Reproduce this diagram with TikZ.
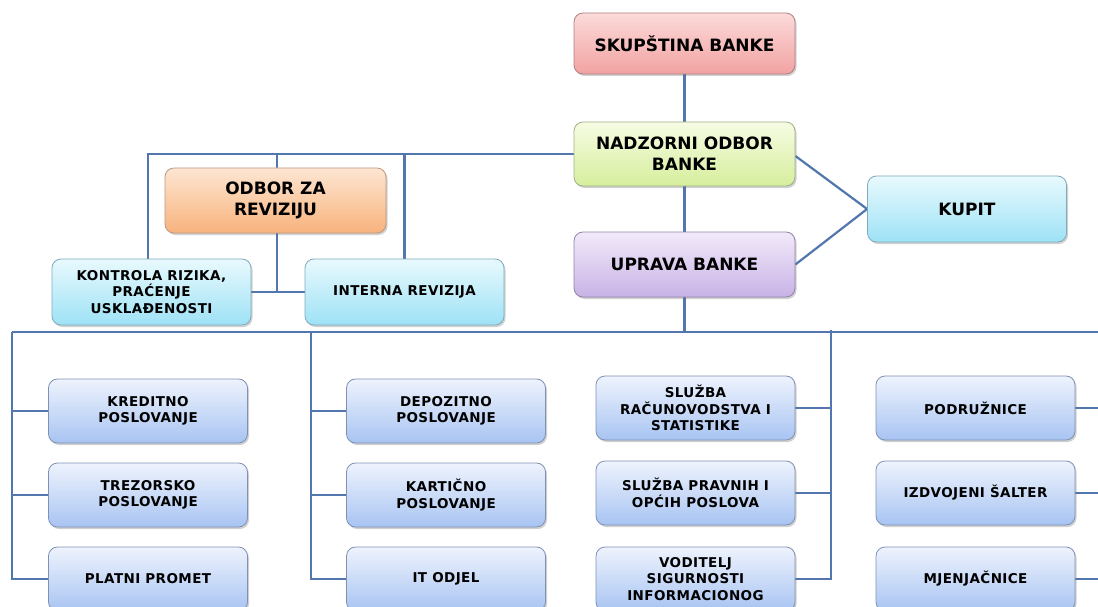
\documentclass[tikz,border=0pt]{standalone}
\usepackage{fontspec}
\setmainfont{DejaVu Sans}
\newfontfamily\topfont{DejaVu Sans}
\newfontfamily\lowfont[LetterSpace=3]{DejaVu Sans}
\usetikzlibrary{shadows,backgrounds}
\definecolor{linec}{HTML}{5277AE}
\definecolor{redT}{HTML}{FCDADA}\definecolor{redB}{HTML}{F2A2A2}\definecolor{redD}{HTML}{B08080}
\definecolor{grnT}{HTML}{F6FCE4}\definecolor{grnB}{HTML}{D6EE9C}\definecolor{grnD}{HTML}{A0B088}
\definecolor{orgT}{HTML}{FDE6D2}\definecolor{orgB}{HTML}{F8B27C}\definecolor{orgD}{HTML}{C09880}
\definecolor{cyaT}{HTML}{E8F9FD}\definecolor{cyaB}{HTML}{9EE2F6}\definecolor{cyaD}{HTML}{80ACBC}
\definecolor{vioT}{HTML}{F2EAFA}\definecolor{vioB}{HTML}{C8B2E6}\definecolor{vioD}{HTML}{9284AA}
\definecolor{bluT}{HTML}{EEF3FD}\definecolor{bluB}{HTML}{A8C4F2}\definecolor{bluD}{HTML}{8092B4}
\tikzset{
  base/.style={rounded corners=9pt, line width=0.8pt, align=center, inner sep=2pt,
    drop shadow={shadow xshift=1.5pt, shadow yshift=-2pt, opacity=0.3, fill=black!60}},
  topbox/.style={base, minimum width=221pt, minimum height=64pt,
    font=\fontsize{17}{21}\topfont\bfseries},
  redbox/.style={topbox, draw=redD, top color=redT, bottom color=redB},
  grnbox/.style={topbox, draw=grnD, top color=grnT, bottom color=grnB},
  orgbox/.style={topbox, draw=orgD, top color=orgT, bottom color=orgB},
  viobox/.style={topbox, draw=vioD, top color=vioT, bottom color=vioB},
  kupbox/.style={topbox, minimum width=199pt, minimum height=66pt, draw=cyaD, top color=cyaT, bottom color=cyaB},
  cyabox/.style={base, minimum width=199pt, minimum height=66pt, draw=cyaD, top color=cyaT, bottom color=cyaB,
    font=\fontsize{13.5}{16.5}\lowfont\bfseries},
  blubox/.style={base, minimum width=199pt, minimum height=64pt, draw=bluD, top color=bluT, bottom color=bluB,
    font=\fontsize{13.5}{16.5}\lowfont\bfseries},
  conn/.style={draw=linec, line width=2.2pt}
}
\begin{document}
\begin{tikzpicture}[x=1pt,y=-1pt]
\clip (0,0) rectangle (1098,607);
% nodes
\node[redbox, minimum height=61pt] (sk) at (684.5,43.5) {SKUPŠTINA BANKE};
\node[grnbox] (nad) at (684.5,154) {NADZORNI ODBOR\\BANKE};
\node[orgbox, minimum height=65pt] (odb) at (275.5,200.5) {ODBOR ZA\\REVIZIJU};
\node[cyabox] (kon) at (151.5,292) {KONTROLA RIZIKA,\\PRAĆENJE\\USKLAĐENOSTI};
\node[cyabox] (int) at (404.5,292) {INTERNA REVIZIJA};
\node[kupbox] (kup) at (967,209) {KUPIT};
\node[viobox, minimum height=65pt] (upr) at (684.5,264.5) {UPRAVA BANKE};
% lower columns
\node[blubox] (k1) at (148,411) {KREDITNO\\POSLOVANJE};
\node[blubox] (k2) at (148,495) {TREZORSKO\\POSLOVANJE};
\node[blubox] (k3) at (148,579) {PLATNI PROMET};
\node[blubox] (d1) at (446,411) {DEPOZITNO\\POSLOVANJE};
\node[blubox] (d2) at (446,495) {KARTIČNO\\POSLOVANJE};
\node[blubox] (d3) at (446,579) {IT ODJEL};
\node[blubox] (s1) at (695.5,408) {SLUŽBA\\RAČUNOVODSTVA I\\STATISTIKE};
\node[blubox] (s2) at (695.5,493) {SLUŽBA PRAVNIH I\\OPĆIH POSLOVA};
\node[blubox] (s3) at (695.5,579) {VODITELJ\\SIGURNOSTI\\INFORMACIONOG};
\node[blubox] (p1) at (975.5,408) {PODRUŽNICE};
\node[blubox] (p2) at (975.5,493) {IZDVOJENI ŠALTER};
\node[blubox] (p3) at (975.5,579) {MJENJAČNICE};
% coordinates
\coordinate (busL) at (12,332);
\coordinate (busR) at (1110,332);
\coordinate (b2) at (311,332);
\coordinate (b3) at (831,330);
\coordinate (b4) at (1110,332);
% connectors
\begin{scope}[on background layer]
\fill[white] (0,0) rectangle (1098,607);
\draw[conn] (sk.south) -- (nad.north);
\draw[conn] (nad.west) -| ([xshift=-3.5pt]kon.north);
\draw[conn] ([xshift=1.5pt]odb.north) -- ([xshift=1.5pt]odb.north |- nad.west);
\draw[conn] (int.north) -- (int.north |- nad.west);
\draw[conn] ([xshift=1.5pt]odb.south) -- ([xshift=1.5pt]odb.south |- kon.east);
\draw[conn] (kon.east) -- (int.west);
\draw[conn] ([yshift=-2pt]nad.east) -- (kup.west);
\draw[conn] (upr.east) -- (kup.west);
\draw[conn] (nad.south) -- (upr.north);
\draw[conn] (upr.south) -- (upr.south |- busL);
\draw[conn] (busL) -- (busR);
\draw[conn] (busL) |- (k1.west);
\draw[conn] (busL) |- (k2.west);
\draw[conn] (busL) |- (k3.west);
\draw[conn] (b2) |- (d1.west);
\draw[conn] (b2) |- (d2.west);
\draw[conn] (b2) |- (d3.west);
\draw[conn] (s1.east) -| (b3);
\draw[conn] (s2.east) -| (b3);
\draw[conn] (s3.east) -| (b3);
\draw[conn] (p1.east) -| (b4);
\draw[conn] (p2.east) -| (b4);
\draw[conn] (p3.east) -| (b4);
\end{scope}
\end{tikzpicture}
\end{document}
